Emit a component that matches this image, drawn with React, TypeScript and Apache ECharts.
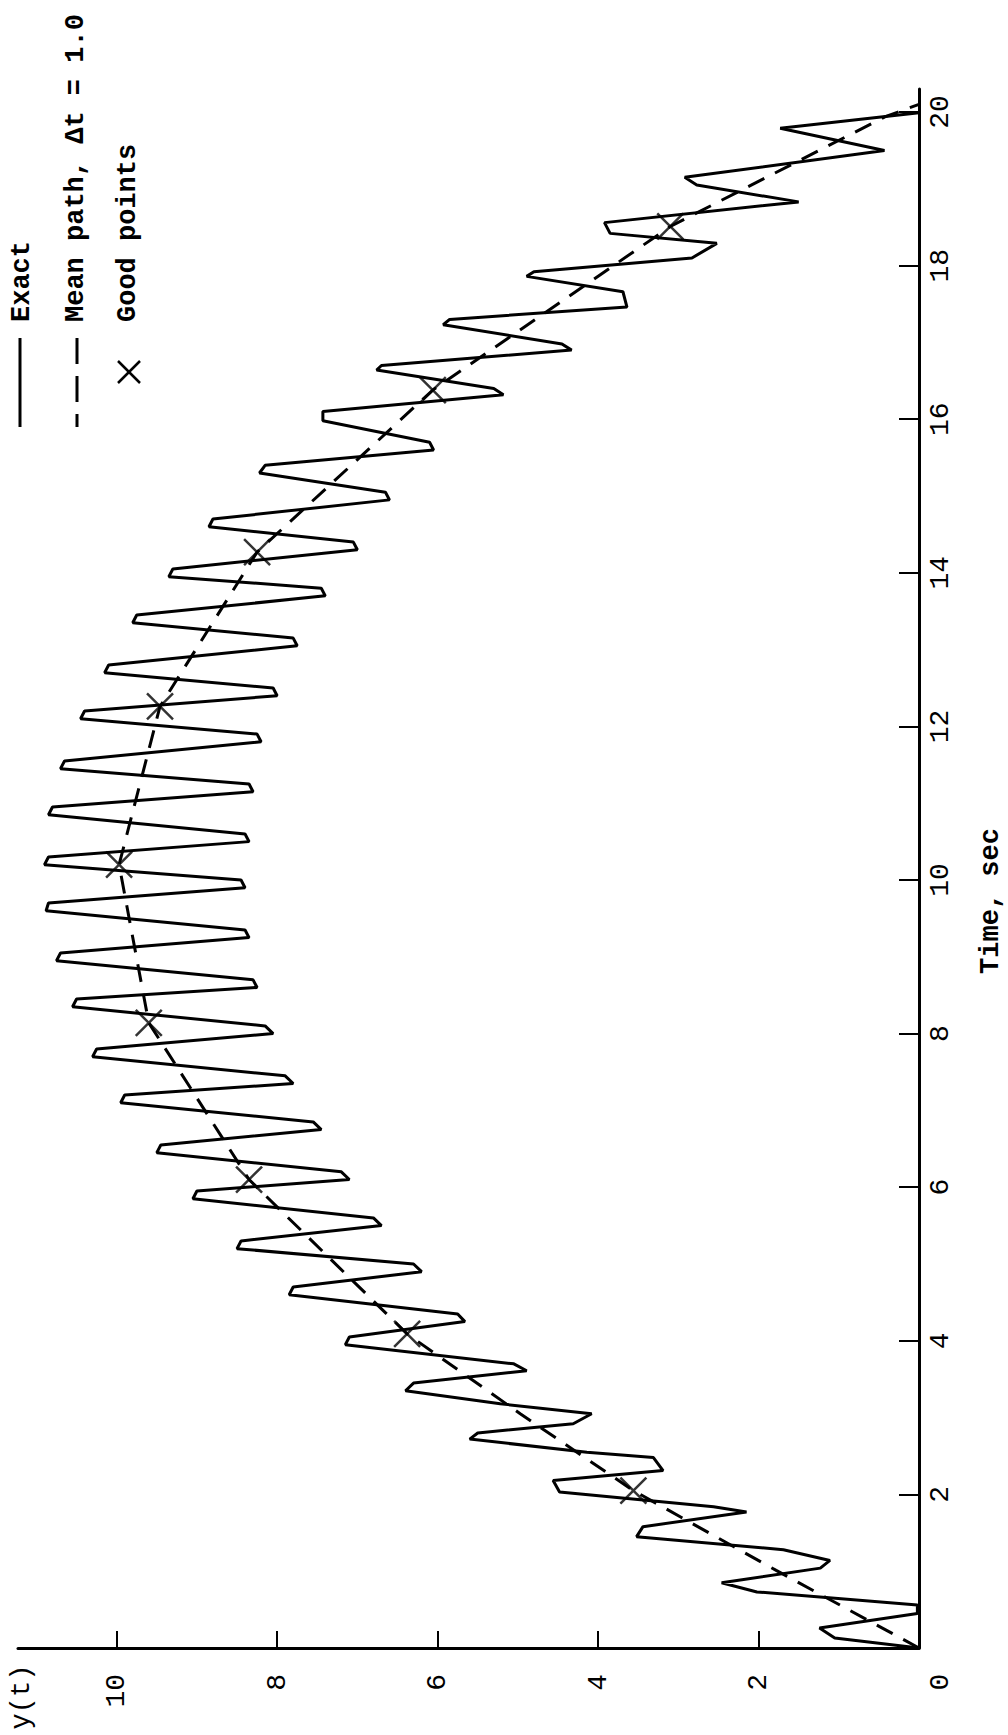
import React, { useEffect, useRef } from "react";
import * as echarts from "echarts";

// Exact solution: time (sec) and y(t) of each plotted vertex
const exactT = [
  0, 0.13, 0.26, 0.45, 0.56, 0.73, 0.85, 1.04, 1.14, 1.28, 1.45, 1.58, 1.77, 1.84, 2.03, 2.18, 2.31, 2.48, 2.55,
  2.72, 2.8, 2.92, 3.05, 3.18, 3.35, 3.45, 3.61, 3.7, 3.95, 4.05, 4.25, 4.35, 4.6, 4.7, 4.9, 5.0, 5.2, 5.3,
  5.5, 5.6, 5.85, 5.95, 6.1, 6.2, 6.45, 6.55, 6.75, 6.85, 7.1, 7.2, 7.35, 7.45, 7.7, 7.8, 8.0, 8.1, 8.35, 8.45,
  8.6, 8.7, 8.95, 9.05, 9.25, 9.35, 9.6, 9.7, 9.9, 10.0, 10.2, 10.3, 10.5, 10.6, 10.85, 10.95, 11.15, 11.25,
  11.45, 11.55, 11.8, 11.9, 12.1, 12.2, 12.4, 12.5, 12.7, 12.8, 13.05, 13.15, 13.35, 13.45, 13.7, 13.8, 13.95,
  14.05, 14.3, 14.4, 14.6, 14.7, 14.95, 15.05, 15.3, 15.4, 15.6, 15.7, 15.98, 16.1, 16.32, 16.4, 16.64, 16.7,
  16.9, 16.98, 17.23, 17.3, 17.46, 17.66, 17.86, 17.92, 18.1, 18.29, 18.42, 18.56, 18.83, 19.05, 19.15, 19.5,
  19.79, 19.99,
];
const exactY = [
  0, 1.05, 1.24, 0.02, 0.02, 2.02, 2.46, 1.23, 1.11, 1.69, 3.52, 3.44, 2.15, 2.56, 4.48, 4.56, 3.19, 3.31, 4.14,
  5.6, 5.5, 4.31, 4.08, 5.22, 6.4, 6.3, 4.89, 5.05, 7.15, 7.1, 5.66, 5.75, 7.85, 7.8, 6.2, 6.3, 8.5, 8.45,
  6.7, 6.8, 9.05, 9.0, 7.1, 7.2, 9.5, 9.45, 7.45, 7.55, 9.95, 9.9, 7.8, 7.9, 10.3, 10.25, 8.05, 8.15, 10.55, 10.5,
  8.25, 8.3, 10.75, 10.7, 8.35, 8.4, 10.88, 10.85, 8.4, 8.45, 10.9, 10.85, 8.35, 8.4, 10.85, 10.8, 8.3, 8.35,
  10.7, 10.65, 8.2, 8.25, 10.45, 10.4, 8.0, 8.05, 10.15, 10.1, 7.75, 7.8, 9.8, 9.75, 7.4, 7.45, 9.35,
  9.3, 7.0, 7.05, 8.85, 8.8, 6.6, 6.65, 8.22, 8.15, 6.05, 6.1, 7.43, 7.43, 5.18, 5.3, 6.76, 6.7,
  4.33, 4.45, 5.93, 5.85, 3.64, 3.69, 4.89, 4.8, 2.83, 2.52, 3.85, 3.92, 1.5, 2.77, 2.92, 0.43,
  1.73, 0,
];

// Mean path, Δt = 1.0
const meanT = [0, 1.01, 2.05, 3.05, 4.09, 6.1, 8.14, 10.2, 12.26, 14.27, 16.38, 18.51, 19.94, 20.1];
const meanY = [0, 1.78, 3.56, 4.97, 6.38, 8.35, 9.6, 9.97, 9.46, 8.25, 6.06, 3.1, 0.42, 0];

// Good points
const goodT = [2.05, 4.09, 6.1, 8.14, 10.2, 12.26, 14.27, 16.38, 18.51];
const goodY = [3.56, 6.38, 8.35, 9.6, 9.97, 9.46, 8.25, 6.06, 3.1];

const yTicks = [2, 4, 6, 8, 10];
const tTicks = [2, 4, 6, 8, 10, 12, 14, 16, 18, 20];
const legendLabels = ["Exact", "Mean path, \u0394t = 1.0", "Good points"];
const xTitle = "Time, sec";
const yTitle = "y(t)";

const FONT = '"Liberation Mono", "DejaVu Sans Mono", monospace';

export default function App() {
  const ref = useRef<HTMLDivElement>(null);

  useEffect(() => {
    if (!ref.current) return;
    const chart = echarts.init(ref.current, null, { renderer: "svg" });
    const zip = (ys: number[], ts: number[]) => ys.map((v, i) => [v, ts[i]]);

    const rotText = (text: string, x: number, y: number, align: string, font: string) => ({
      type: "text",
      x,
      y,
      rotation: Math.PI / 2,
      silent: true,
      style: { text, font, fill: "#000", align, verticalAlign: "middle" },
    });

    chart.setOption({
      animation: false,
      backgroundColor: "#ffffff",
      grid: { left: 18, right: 89, top: 89, bottom: 87 },
      xAxis: {
        type: "value",
        inverse: true,
        min: 0,
        max: 11.23,
        position: "bottom",
        axisLine: { show: true, onZero: false, lineStyle: { color: "#000", width: 3 } },
        axisTick: {
          show: true,
          inside: true,
          length: 17,
          customValues: yTicks,
          lineStyle: { color: "#000", width: 2 },
        },
        axisLabel: {
          show: true,
          rotate: 90,
          customValues: yTicks,
          margin: 26,
          align: "right",
          verticalAlign: "middle",
          color: "#000",
          fontFamily: FONT,
          fontSize: 28,
        },
        splitLine: { show: false },
      },
      yAxis: {
        type: "value",
        min: 0,
        max: 20.3,
        position: "right",
        axisLine: { show: true, onZero: false, lineStyle: { color: "#000", width: 3 } },
        axisTick: {
          show: true,
          inside: true,
          length: 20,
          customValues: tTicks,
          lineStyle: { color: "#000", width: 2 },
        },
        axisLabel: {
          show: true,
          rotate: 90,
          customValues: tTicks,
          margin: 21,
          align: "center",
          verticalAlign: "middle",
          color: "#000",
          fontFamily: FONT,
          fontSize: 28,
        },
        splitLine: { show: false },
      },
      series: [
        {
          name: legendLabels[0],
          type: "line",
          data: zip(exactY, exactT),
          showSymbol: false,
          lineStyle: { color: "#000", width: 3 },
          z: 3,
        },
        {
          name: legendLabels[1],
          type: "line",
          data: zip(meanY, meanT),
          showSymbol: false,
          lineStyle: { color: "#000", width: 3, type: [18, 12] },
          z: 2,
        },
        {
          name: legendLabels[2],
          type: "scatter",
          data: zip(goodY, goodT),
          symbol: "path://M0 0L10 10M10 0L0 10",
          symbolSize: 26,
          itemStyle: { color: "transparent", borderColor: "#000", borderWidth: 2.5 },
          z: 4,
        },
      ],
      graphic: [
        { type: "line", silent: true, shape: { x1: 20, y1: 338, x2: 20, y2: 427 }, style: { stroke: "#000", lineWidth: 3 } },
        {
          type: "line",
          silent: true,
          shape: { x1: 77, y1: 338, x2: 77, y2: 427 },
          style: { stroke: "#000", lineWidth: 3, lineDash: [26, 12] },
        },
        { type: "line", silent: true, shape: { x1: 118, y1: 361, x2: 140, y2: 383 }, style: { stroke: "#000", lineWidth: 2.5 } },
        { type: "line", silent: true, shape: { x1: 140, y1: 361, x2: 118, y2: 383 }, style: { stroke: "#000", lineWidth: 2.5 } },
        rotText(legendLabels[0], 22, 322, "left", `bold 27px ${FONT}`),
        rotText(legendLabels[1], 76, 322, "left", `bold 27px ${FONT}`),
        rotText(legendLabels[2], 128, 322, "left", `bold 27px ${FONT}`),
        rotText(xTitle, 991, 901, "center", `bold 27px ${FONT}`),
        rotText(yTitle, 22, 1697, "center", `27px ${FONT}`),
        rotText("0", 940, 1682, "center", `28px ${FONT}`),
      ],
    });
    return () => chart.dispose();
  }, []);

  return (
    <div
      ref={ref}
      style={{ position: "absolute", left: 0, top: 0, width: 1008, height: 1735, background: "#fff" }}
    />
  );
}
